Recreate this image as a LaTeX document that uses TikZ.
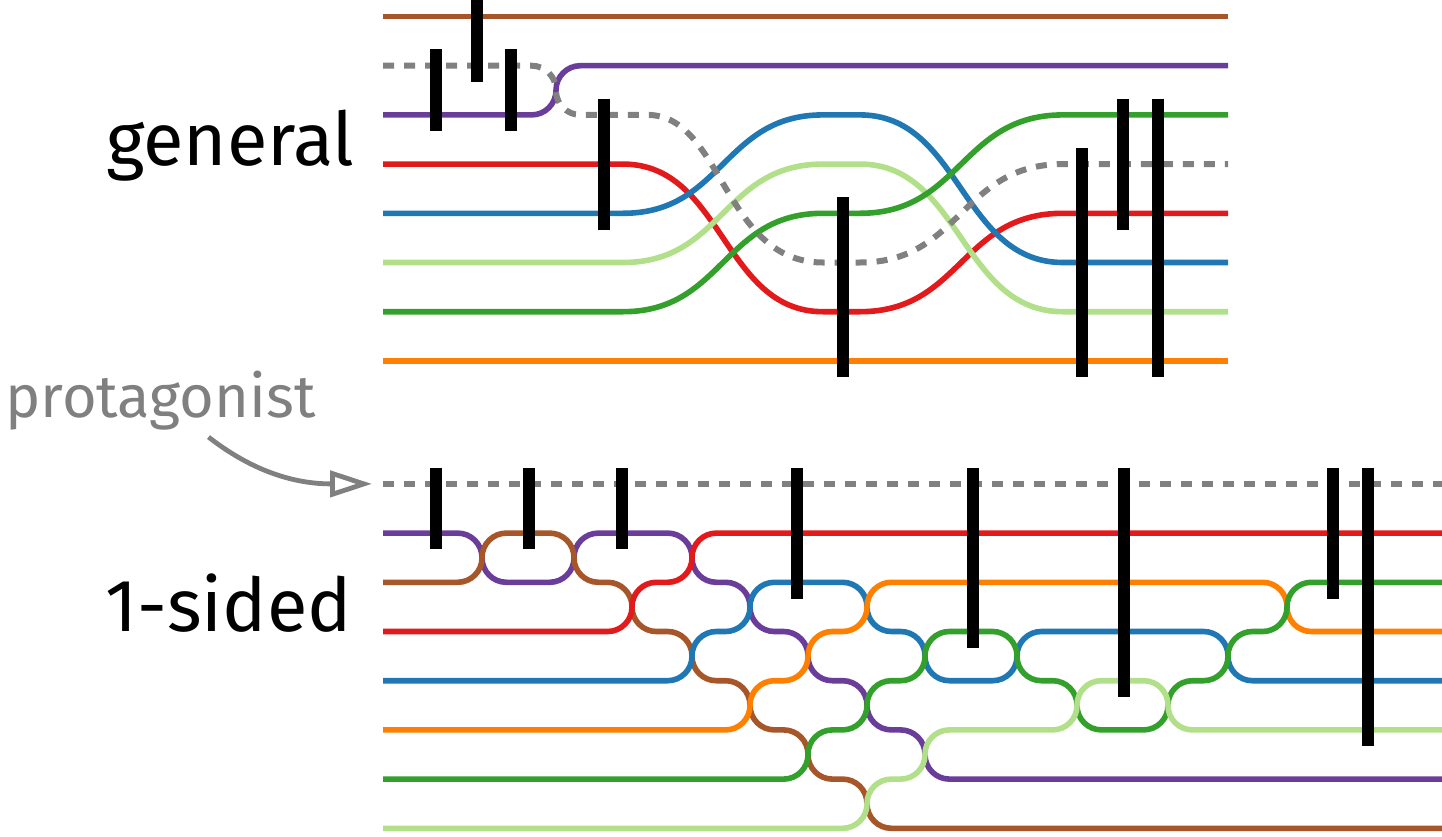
\documentclass[tikz,border=0pt]{standalone}
\usepackage{fontspec}
\setmainfont{Fira Sans}
\usetikzlibrary{arrows.meta}
\definecolor{slbrown}{RGB}{166,86,40}
\definecolor{slpurple}{RGB}{106,61,154}
\definecolor{slgreen}{RGB}{51,160,44}
\definecolor{sllight}{RGB}{178,223,138}
\definecolor{slred}{RGB}{227,26,28}
\definecolor{slblue}{RGB}{31,120,180}
\definecolor{slorange}{RGB}{255,127,0}
\definecolor{slgray}{RGB}{128,128,128}

% a bar that marks who meets whom
\newcommand{\meetbar}[3]{\draw[meet] (#1,#2-0.33) -- (#1,#3+0.33);}
% a line of the upper picture: row before, row in the middle, row after
\newcommand{\topline}[4]{\draw[ln,#1] (383,#2) -- (623,#2)
  .. controls (723,#2) and (723,#3) .. (823,#3) -- (860,#3)
  .. controls (961,#3) and (961,#4) .. (1063,#4) -- (1228,#4);}

\begin{document}
\begin{tikzpicture}[
    x=0.5pt, y=-24.6pt,
    >={Triangle[open,length=21pt,width=13pt]},
    ln/.style={line width=2.8pt},
    sw/.style={rounded corners=12.2pt},
    prot/.style={slgray, line width=3pt, dash pattern=on 5.5pt off 5pt},
    meet/.style={line width=6.2pt, black},
    lbl/.style={font=\fontsize{37}{40}\selectfont, inner sep=0pt},
    tag/.style={font=\fontsize{29.8}{32}\selectfont, inner sep=0pt, text=slgray},
  ]

  \useasboundingbox (0,-0.3354) rectangle (1442,16.657);

  % (a) general
  \node[lbl, anchor=base east] (gen) at (355,3.02) {general};

  \draw[ln,slbrown] (383,0) -- (1228,0);
  \draw[ln,slpurple,sw] (383,2) -| (556,1) -- (1228,1);
  \topline{slred}{3}{6}{4}
  \topline{slblue}{4}{2}{5}
  \topline{sllight}{5}{3}{6}
  \topline{slgreen}{6}{4}{2}
  \draw[ln,slorange] (383,7) -- (1228,7);
  \draw[prot] (383,1) [sw] -| (556,2) -- (623,2) [sharp corners]
    .. controls (723,2) and (723,5) .. (823,5) -- (860,5)
    .. controls (961,5) and (961,3) .. (1063,3) -- (1228,3);

  \meetbar{436}{1}{2}
  \meetbar{477}{0}{1}
  \meetbar{511}{1}{2}
  \meetbar{604}{2}{4}
  \meetbar{843}{4}{7}
  \meetbar{1082}{3}{7}
  \meetbar{1123}{2}{4}
  \meetbar{1158}{2}{7}

  % the protagonist
  \node[tag, anchor=base west] (protag) at (5,8.16) {protagonist};
  \coordinate (ptip) at (372,9.5);
  \draw[->, slgray, line width=2.4pt] ([xshift=24pt,yshift=-3pt]protag.south)
    to[out=-38, in=180] (ptip);

  % (b) 1-sided
  \begin{scope}[shift={(0,9.5)}]
    \node[lbl, anchor=base east] (one) at (352,3.0) {1-sided};

    \draw[prot] (383,0) -- (1442,0);
    \draw[ln,sw,slpurple] (383,1) -| (482,2) -| (574,1) -| (692,2) -| (750,3)
      -| (808,4) -| (867,5) -| (925,6) -- (1442,6);
    \draw[ln,sw,slbrown] (383,2) -| (482,1) -| (574,2) -| (632,3) -| (692,4)
      -| (750,5) -| (808,6) -| (867,7) -- (1442,7);
    \draw[ln,sw,slred] (383,3) -| (632,2) -| (692,1) -- (1442,1);
    \draw[ln,sw,slblue] (383,4) -| (692,3) -| (750,2) -| (867,3) -| (925,4)
      -| (1017,3) -| (1228,4) -- (1442,4);
    \draw[ln,sw,slorange] (383,5) -| (750,4) -| (808,3) -| (867,2) -| (1287,3)
      -- (1442,3);
    \draw[ln,sw,slgreen] (383,6) -| (808,5) -| (867,4) -| (925,3) -| (1017,4)
      -| (1077,5) -| (1168,4) -| (1228,3) -| (1287,2) -- (1442,2);
    \draw[ln,sw,sllight] (383,7) -| (867,6) -| (925,5) -| (1077,4) -| (1168,5)
      -- (1442,5);

    \meetbar{436}{0}{1}
    \meetbar{529}{0}{1}
    \meetbar{622}{0}{1}
    \meetbar{797}{0}{2}
    \meetbar{973}{0}{3}
    \meetbar{1124}{0}{4}
    \meetbar{1333}{0}{2}
    \meetbar{1368}{0}{5}
  \end{scope}

\end{tikzpicture}
\end{document}
